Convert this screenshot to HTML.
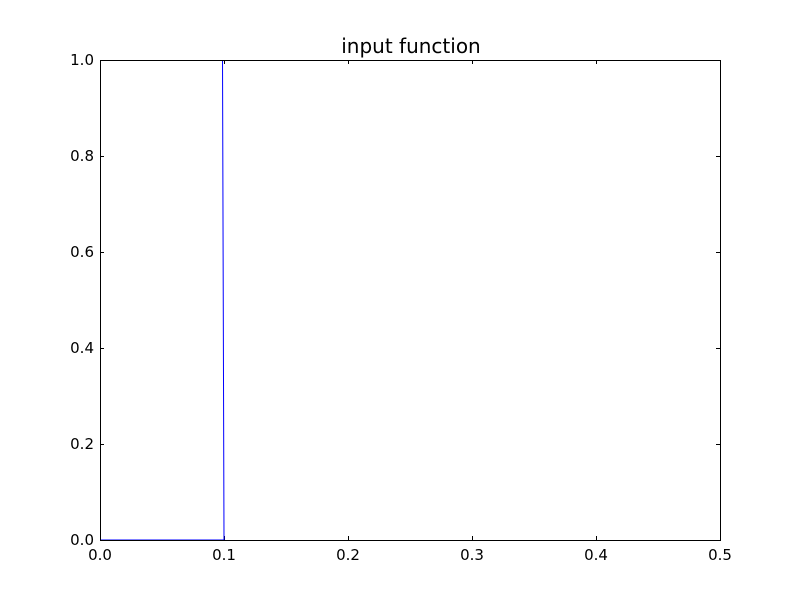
<!DOCTYPE html>
<html><head><meta charset="utf-8"><style>
body{margin:0;background:#fff;}
text{font-family:"DejaVu Sans","Liberation Sans",sans-serif;}
</style></head><body>
<svg id="chart" width="800" height="600" xmlns="http://www.w3.org/2000/svg">
<rect width="800" height="600" fill="#fff"/>
<text x="411" y="53" font-size="20" text-anchor="middle">input function</text>
<g id="ticks"></g>
<polyline id="series" fill="none" stroke="#0000ff" stroke-width="1"/>
<rect x="100.5" y="60.5" width="620" height="480" fill="none" stroke="#000" stroke-width="1"/>
</svg>
<script>
const xVals=[0,0.1,0.0988];
const yVals=[0,0,1];
const xTicks=[0,0.1,0.2,0.3,0.4,0.5];
const yTicks=[0,0.2,0.4,0.6,0.8,1.0];
const X=v=>100+v/0.5*620, Y=v=>540-v*480;
document.getElementById('series').setAttribute('points',xVals.map((x,i)=>X(x)+','+Y(yVals[i])).join(' '));
const g=document.getElementById('ticks');const ns='http://www.w3.org/2000/svg';
function ln(x1,y1,x2,y2){const l=document.createElementNS(ns,'line');l.setAttribute('x1',x1);l.setAttribute('y1',y1);l.setAttribute('x2',x2);l.setAttribute('y2',y2);l.setAttribute('stroke','#000');


g.appendChild(l);}
function tx(x,y,s,a){const t=document.createElementNS(ns,'text');t.setAttribute('x',x);t.setAttribute('y',y);t.setAttribute('font-size','15');t.setAttribute('text-anchor',a);t.textContent=s;


g.appendChild(t);}
xTicks.forEach(v=>{const x=Math.round(X(v))+0.5;ln(x,540,x,536);ln(x,60,x,64);tx(X(v),560,v.toFixed(1),'middle');});
yTicks.forEach(v=>{const y=Math.round(Y(v))+0.5;ln(100,y,104,y);ln(720,y,716,y);tx(94,Y(v)+5,v.toFixed(1),'end');});
</script>
</body></html>
